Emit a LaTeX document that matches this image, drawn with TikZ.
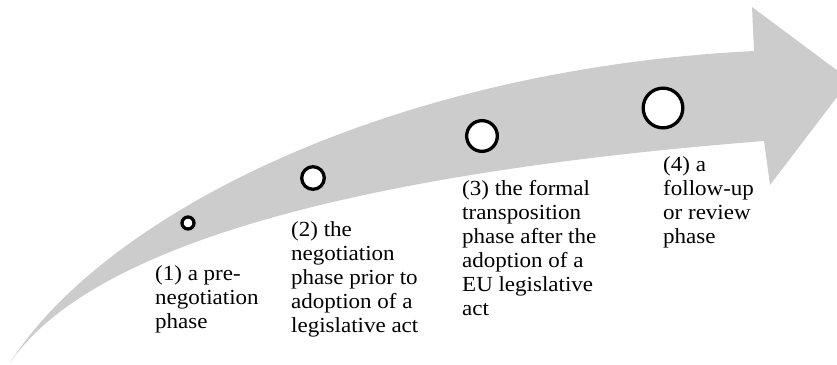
\documentclass[tikz,border=0pt]{standalone}
\usepackage{fontspec}
\setmainfont{Liberation Serif}[FakeStretch=1.07]
\definecolor{band}{RGB}{204,204,204}

\begin{document}
\begin{tikzpicture}[x=1pt,y=-1pt,
  stage/.style={circle,draw,fill=white,line width=3.3pt,inner sep=0pt},
  phase/.style={anchor=north west,align=left,inner sep=0pt,font=\fontsize{21.5}{24}\selectfont}]
\useasboundingbox (0,0) rectangle (837,364);
\begin{scope}
\clip (0,0) rectangle (837,364);
\fill[band] (10,363) .. controls (100,220) and (380,70) .. (754,51)
  -- (752,7) -- (850,80) -- (770,185) -- (764,141)
  .. controls (420,168) and (100,230) .. cycle;
\end{scope}
\node[stage,minimum size=12pt] (c1) at (188,223) {};
\node[stage,minimum size=22.6pt] (c2) at (313,178) {};
\node[stage,minimum size=30.7pt] (c3) at (482,136) {};
\node[stage,minimum size=39.7pt] (c4) at (663,108) {};
\node[phase] (p1) at (155,265) {(1) a pre-\\negotiation\\phase};
\node[phase] (p2) at (291,221) {(2) the\\negotiation\\phase prior to\\adoption of a\\legislative act};
\node[phase] (p3) at (462,180) {(3) the formal\\transposition\\phase after the\\adoption of a\\EU legislative\\act};
\node[phase] (p4) at (663,156) {(4) a\\follow-up\\or review\\phase};
\end{tikzpicture}
\end{document}
